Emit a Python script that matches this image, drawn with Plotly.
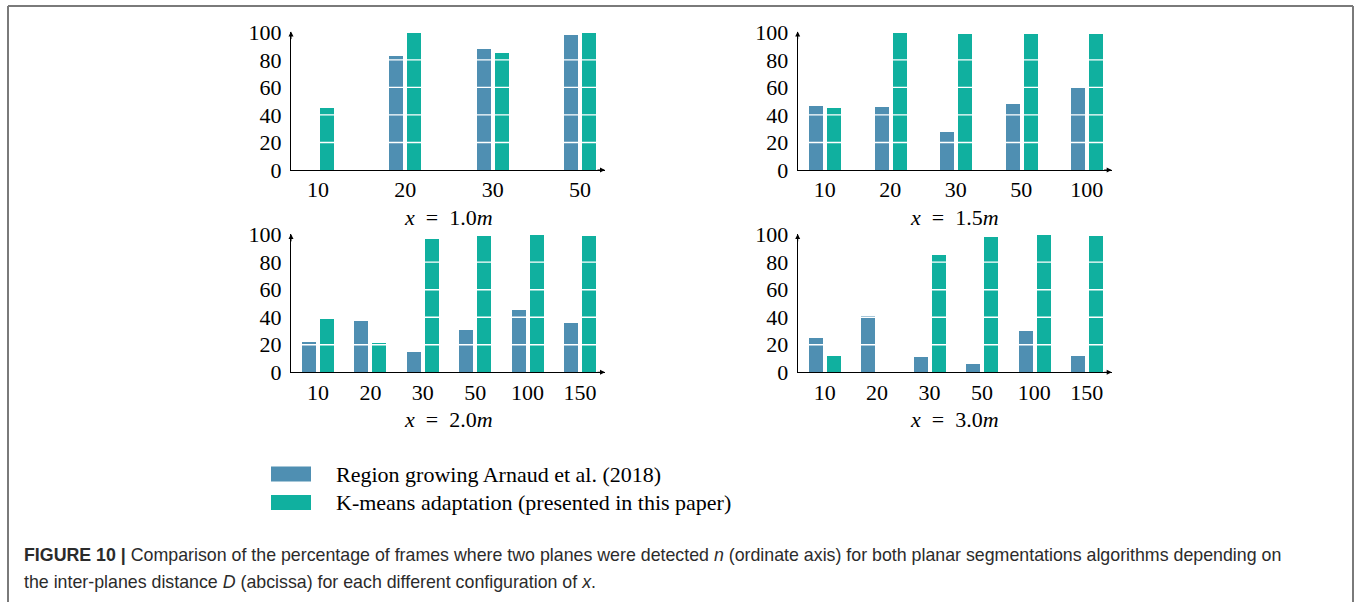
import plotly.graph_objects as go

# Percentage of frames where two planes were detected, per inter-planes distance D
CONFIGS = ["1.0", "1.5", "2.0", "3.0"]

D_X10 = ["10", "20", "30", "50"]
D_X15 = ["10", "20", "30", "50", "100"]
D_X20 = ["10", "20", "30", "50", "100", "150"]
D_X30 = ["10", "20", "30", "50", "100", "150"]

REGION_X10 = [0, 83, 88, 98]
KMEANS_X10 = [45, 100, 85, 100]

REGION_X15 = [47, 46, 28, 48, 60]
KMEANS_X15 = [45, 100, 99, 99, 99]

REGION_X20 = [22, 37, 15, 31, 45, 36]
KMEANS_X20 = [39, 21, 97, 99, 100, 99]

REGION_X30 = [25, 41, 11, 6, 30, 12]
KMEANS_X30 = [12, 0, 85, 98, 100, 99]

Y_TICKS = [0, 20, 40, 60, 80, 100]
SERIES_NAMES = ["Region growing Arnaud et al. (2018)",
                "K-means adaptation (presented in this paper)"]

BLUE = "#4f8fb2"
TEAL = "#10b09f"
SERIF = "Liberation Serif, Times New Roman, serif"
SANS = "Liberation Sans, Arial, sans-serif"

W, H = 1356, 602


def fx(p):
    return p / W


def fy(p):
    return 1 - p / H


panels = [
    (D_X10, REGION_X10, KMEANS_X10, CONFIGS[0]),
    (D_X15, REGION_X15, KMEANS_X15, CONFIGS[1]),
    (D_X20, REGION_X20, KMEANS_X20, CONFIGS[2]),
    (D_X30, REGION_X30, KMEANS_X30, CONFIGS[3]),
]

# panel geometry in pixels
LEFTS = [291, 797.7, 291, 797.7]
BASES = [170, 170, 372.3, 372.3]
AX_LEN = 314          # x axis length
PAD_L, PAD_R = 27, 25  # first / last category distance from axis ends
PX_PER_UNIT = 1.377    # vertical pixels per percent
Y_MAX = 100.5
BAR_PX, GAP_PX = 14, 4

fig = go.Figure()
layout = dict(
    width=W, height=H, autosize=False,
    margin=dict(l=0, r=0, t=0, b=0, pad=0, autoexpand=False),
    paper_bgcolor="white", plot_bgcolor="white",
    showlegend=False, bargap=0,
)
annotations = []
shapes = []

for k, (cats, reg, kme, conf) in enumerate(panels):
    n = len(cats)
    idx = list(range(n))
    ppu = (AX_LEN - PAD_L - PAD_R) / (n - 1)
    r0 = -PAD_L / ppu
    r1 = r0 + AX_LEN / ppu
    w = BAR_PX / ppu
    xa = "x" if k == 0 else f"x{k + 1}"
    ya = "y" if k == 0 else f"y{k + 1}"
    fig.add_trace(go.Bar(
        x=idx, y=reg, xaxis=xa, yaxis=ya, name=SERIES_NAMES[0],
        marker=dict(color=BLUE, line=dict(width=0)),
        width=[w] * n, offset=[-(BAR_PX + GAP_PX / 2) / ppu] * n,
    ))
    fig.add_trace(go.Bar(
        x=idx, y=kme, xaxis=xa, yaxis=ya, name=SERIES_NAMES[1],
        marker=dict(color=TEAL, line=dict(width=0)),
        width=[w] * n, offset=[(GAP_PX / 2) / ppu] * n,
    ))
    left, base = LEFTS[k], BASES[k]
    top = base - Y_MAX * PX_PER_UNIT
    xkey = "xaxis" if k == 0 else f"xaxis{k + 1}"
    ykey = "yaxis" if k == 0 else f"yaxis{k + 1}"
    layout[xkey] = dict(
        domain=[fx(left), fx(left + AX_LEN)], range=[r0, r1],
        anchor=ya, tickmode="array", tickvals=idx, ticktext=cats,
        showgrid=False, zeroline=False, showline=True, automargin=False,
        linecolor="black", linewidth=1, ticks="",
        tickfont=dict(family=SERIF, size=22, color="black"),
        ticklabelstandoff=0, fixedrange=True,
    )
    layout[ykey] = dict(
        domain=[fy(base), fy(top)], range=[0, Y_MAX],
        anchor=xa, tickmode="array", tickvals=Y_TICKS,
        showgrid=False, zeroline=False, showline=True, automargin=False,
        linecolor="black", linewidth=1, ticks="",
        tickfont=dict(family=SERIF, size=22, color="black"),
        ticklabelstandoff=4, fixedrange=True,
    )
    # white grid lines drawn over the bars
    for t in Y_TICKS[1:-1]:
        shapes.append(dict(
            type="line", xref=f"{xa} domain", yref=ya,
            x0=0.01, x1=0.995, y0=t, y1=t, layer="above",
            line=dict(color="white", width=1.4),
        ))
    # axis arrowheads
    annotations.append(dict(
        xref=f"{xa} domain", yref=f"{ya} domain", x=1, y=0,
        axref="pixel", ayref="pixel", ax=-9, ay=0, text="",
        showarrow=True, arrowhead=2, arrowsize=1, arrowwidth=1,
        arrowcolor="black",
    ))
    annotations.append(dict(
        xref=f"{xa} domain", yref=f"{ya} domain", x=0, y=1,
        axref="pixel", ayref="pixel", ax=0, ay=9, text="",
        showarrow=True, arrowhead=2, arrowsize=1, arrowwidth=1,
        arrowcolor="black",
    ))
    # configuration label under each panel
    annotations.append(dict(
        xref=f"{xa} domain", yref="paper", x=0.5, y=fy(base + 47.5),
        text=f"<i>x</i>\u2002=\u2002{conf}<i>m</i>", showarrow=False,
        xanchor="center", yanchor="middle",
        font=dict(family=SERIF, size=22, color="black"),
    ))

# legend
for i, (col, yc) in enumerate([(BLUE, 474), (TEAL, 502.5)]):
    shapes.append(dict(
        type="rect", xref="paper", yref="paper",
        x0=fx(271), x1=fx(311), y0=fy(yc - 7.5), y1=fy(yc + 7.5),
        fillcolor=col, line=dict(width=0), layer="above",
    ))
    annotations.append(dict(
        xref="paper", yref="paper", x=fx(334), y=fy(yc),
        text=SERIES_NAMES[i], showarrow=False,
        xanchor="left", yanchor="middle",
        font=dict(family=SERIF, size=22, color="black"),
    ))

# figure frame
for x0, y0, x1, y1 in [(8, 6, 1353, 6), (8, 6, 8, 610), (1353, 6, 1353, 610)]:
    shapes.append(dict(
        type="line", xref="paper", yref="paper",
        x0=fx(x0), y0=fy(y0), x1=fx(x1), y1=fy(y1),
        line=dict(color="#7a7a7a", width=2), layer="above",
    ))

# caption
CAPTION_1 = ("<b>FIGURE 10 |</b> Comparison of the percentage of frames where two planes "
             "were detected <i>n</i> (ordinate axis) for both planar segmentations "
             "algorithms depending on")
CAPTION_2 = ("the inter-planes distance <i>D</i> (abcissa) for each different "
             "configuration of <i>x</i>.")
for txt, yc in [(CAPTION_1, 555), (CAPTION_2, 582)]:
    annotations.append(dict(
        xref="paper", yref="paper", x=fx(22), y=fy(yc),
        text=txt, showarrow=False, xanchor="left", yanchor="middle",
        font=dict(family=SANS, size=17.8, color="#2b2b2b"),
    ))

layout["annotations"] = annotations
layout["shapes"] = shapes
fig.update_layout(**layout)
fig.write_html("out.html", config={"displayModeBar": False})
